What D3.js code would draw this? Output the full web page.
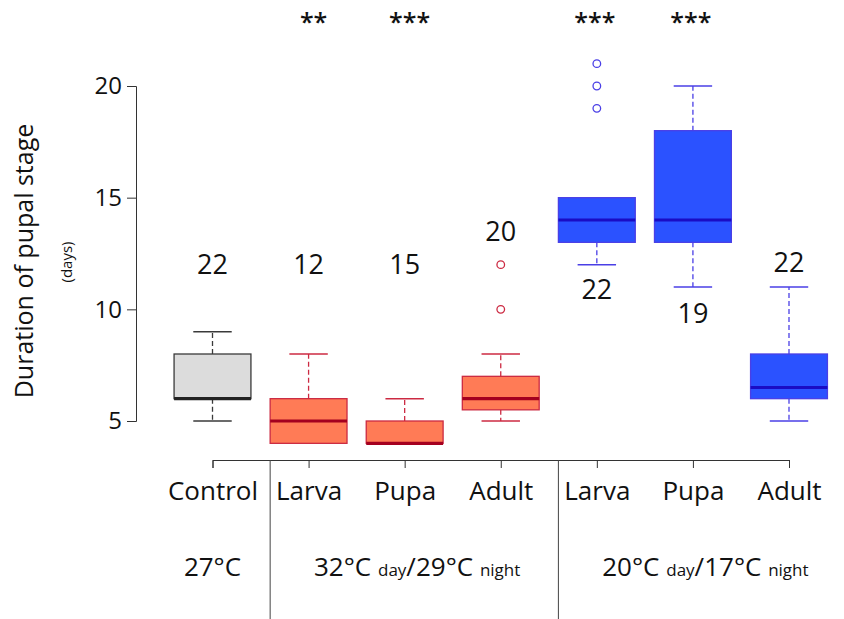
<!DOCTYPE html>
<html>
<head>
<meta charset="utf-8">
<script src="https://cdn.jsdelivr.net/npm/d3@7"></script>
<style>
  body { margin: 0; background: #fff; }
  svg { display: block; }
  text { font-family: 'Open Sans', sans-serif; fill: #111; }
</style>
</head>
<body>
<svg id="chart" width="844" height="619"></svg>
<script>
// ---- data: duration of pupal stage (days) per treatment ----
const stages       = ["Control", "Larva", "Pupa", "Adult", "Larva", "Pupa", "Adult"];
const regime       = ["control", "hot", "hot", "hot", "cold", "cold", "cold"];
const whiskerLow   = [5, 4, 4, 5, 12, 11, 5];
const quartile1    = [6, 4, 4, 5.5, 13, 13, 6];
const medians      = [6, 5, 4, 6, 14, 14, 6.5];
const quartile3    = [8, 6, 5, 7, 15, 18, 8];
const whiskerHigh  = [9, 8, 6, 8, 15, 20, 11];
const outliers     = [[], [], [], [10, 12], [19, 20, 21], [], []];
const sampleSizes  = [22, 12, 15, 20, 22, 19, 22];
const significance = ["", "**", "***", "", "***", "***", ""];
const yTicks       = [5, 10, 15, 20];

// temperature regimes shown under the stage labels
const regimeLabels = [
  { from: 0, to: 0, parts: [["27°C", false]] },
  { from: 1, to: 3, parts: [["32°C ", false], ["day", true], ["/29°C ", false], ["night", true]] },
  { from: 4, to: 6, parts: [["20°C ", false], ["day", true], ["/17°C ", false], ["night", true]] }
];

// ---- layout ----
// height (in days) at which each sample-size label is centred
const countLabelAt = [12, 12, 12, 13.5, 10.9, 9.8, 12.1];

const palette = {
  control: { fill: "#dcdcdc", stroke: "#3a3a3a", median: "#222222", whisker: "#3a3a3a" },
  hot:     { fill: "#ff7b56", stroke: "#cc2a42", median: "#a4001f", whisker: "#cc2a42" },
  cold:    { fill: "#2b52ff", stroke: "#4a3fe6", median: "#1a0cc4", whisker: "#4a3fe6" }
};

const svg = d3.select("#chart");
const idx = d3.range(stages.length);

const x = d3.scalePoint().domain(idx).range([212.5, 789]);
const y = d3.scaleLinear().domain([5, 20]).range([421, 86]);
const step = x.step();
const boxW = step * 0.8;
const capW = boxW / 2;

// ---- y axis ----
const yAxis = svg.append("g")
  .attr("transform", "translate(136,0)")
  .call(d3.axisLeft(y).tickValues(yTicks).tickSize(9).tickPadding(5).tickFormat(d3.format("d")));
yAxis.select(".domain").attr("stroke", "#333");
yAxis.selectAll(".tick line").attr("stroke", "#333");
yAxis.selectAll(".tick text")
  .attr("font-size", 24).attr("fill", "#111")
  .style("font-family", "'Open Sans', sans-serif");

svg.append("text")
  .attr("transform", "translate(33,261) rotate(-90)")
  .attr("text-anchor", "middle")
  .attr("font-size", 25)
  .text("Duration of pupal stage");
svg.append("text")
  .attr("transform", "translate(72,262) rotate(-90)")
  .attr("text-anchor", "middle")
  .attr("font-size", 15)
  .text("(days)");

// ---- x axis ----
const xAxis = svg.append("g")
  .attr("transform", "translate(0,460)")
  .call(d3.axisBottom(x).tickSize(8).tickSizeOuter(8).tickFormat(i => stages[i]));
xAxis.select(".domain").attr("stroke", "#333");
xAxis.selectAll(".tick line").attr("stroke", "#333");
xAxis.selectAll(".tick text")
  .attr("y", 40).attr("dy", 0)
  .attr("font-size", 26).attr("fill", "#111")
  .style("font-family", "'Open Sans', sans-serif");

// group separators
const sepAfter = [0, 3];
svg.selectAll(".sep").data(sepAfter).join("line")
  .attr("class", "sep")
  .attr("x1", i => (x(i) + x(i + 1)) / 2 + step * 0.1)
  .attr("x2", i => (x(i) + x(i + 1)) / 2 + step * 0.1)
  .attr("y1", 460).attr("y2", 619)
  .attr("stroke", "#444").attr("stroke-width", 1);

// temperature labels
regimeLabels.forEach(r => {
  const cx = (x(r.from) + x(r.to)) / 2 + (r.from === r.to ? 0 : step * 0.13);
  const t = svg.append("text")
    .attr("x", cx).attr("y", 576)
    .attr("text-anchor", "middle")
    .attr("font-size", 26);
  r.parts.forEach(([s, small]) => {
    t.append("tspan").attr("font-size", small ? 17 : 26).text(s);
  });
});

// ---- boxes ----
const boxes = svg.append("g").selectAll("g").data(idx).join("g");

// whiskers (dashed stems + caps), box, median, outliers
boxes.each(function (i) {
  const g = d3.select(this);
  const c = palette[regime[i]];
  const cx = x(i);
  const segs = [];
  if (whiskerHigh[i] > quartile3[i]) segs.push([quartile3[i], whiskerHigh[i]]);
  if (whiskerLow[i] < quartile1[i]) segs.push([quartile1[i], whiskerLow[i]]);
  segs.forEach(([a, b]) => {
    g.append("line")
      .attr("x1", cx).attr("x2", cx)
      .attr("y1", y(a)).attr("y2", y(b))
      .attr("stroke", c.whisker).attr("stroke-width", 1.3)
      .attr("stroke-dasharray", "5,3");
    g.append("line")
      .attr("x1", cx - capW / 2).attr("x2", cx + capW / 2)
      .attr("y1", y(b)).attr("y2", y(b))
      .attr("stroke", c.whisker).attr("stroke-width", 1.5);
  });
  g.append("rect")
    .attr("x", cx - boxW / 2)
    .attr("y", y(quartile3[i]))
    .attr("width", boxW)
    .attr("height", y(quartile1[i]) - y(quartile3[i]))
    .attr("fill", c.fill)
    .attr("stroke", c.stroke).attr("stroke-width", 1.3);
  g.append("line")
    .attr("x1", cx - boxW / 2).attr("x2", cx + boxW / 2)
    .attr("y1", y(medians[i])).attr("y2", y(medians[i]))
    .attr("stroke", c.median).attr("stroke-width", 3.2);
  g.selectAll("circle").data(outliers[i]).join("circle")
    .attr("cx", cx).attr("cy", v => y(v)).attr("r", 3.8)
    .attr("fill", "none").attr("stroke", c.stroke).attr("stroke-width", 1.3);
});

// sample sizes
svg.selectAll(".n").data(idx).join("text")
  .attr("class", "n")
  .attr("x", i => x(i))
  .attr("y", i => y(countLabelAt[i]) + 9.5)
  .attr("text-anchor", "middle")
  .attr("font-size", 27)
  .text(i => sampleSizes[i]);

// significance stars
svg.selectAll(".sig").data(idx.filter(i => significance[i])).join("text")
  .attr("class", "sig")
  .attr("x", i => x(i) + (regime[i] === "hot" ? 5 : -2))
  .attr("y", 31)
  .attr("text-anchor", "middle")
  .attr("font-size", 25)
  .attr("font-weight", 600)
  .text(i => significance[i]);
</script>
</body>
</html>
